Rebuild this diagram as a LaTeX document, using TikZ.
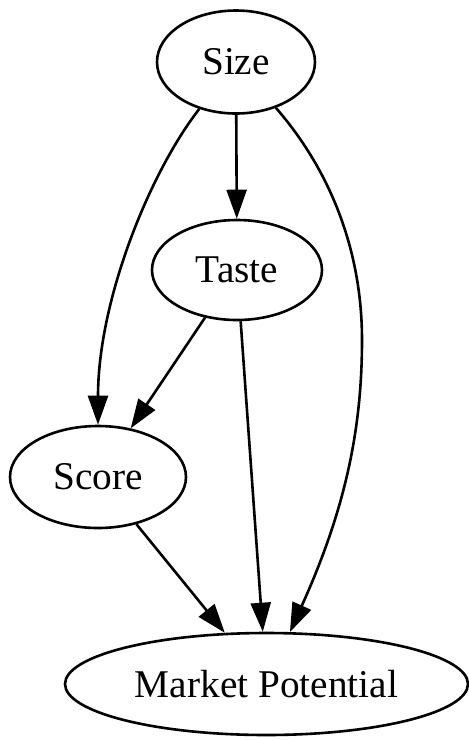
\documentclass[tikz,border=0pt]{standalone}
\usepackage{fontspec}
\setmainfont{Liberation Serif}
\usetikzlibrary{shapes.geometric,arrows.meta}
\begin{document}
\begin{tikzpicture}[x=1pt,y=-1pt,
  every node/.style={font=\fontsize{39.3}{47}\selectfont},
  nd/.style={ellipse,draw,line width=2.6pt,inner sep=0pt},
  arr/.style={line width=2.6pt,-{Triangle[length=29pt,width=20pt]}}]
\useasboundingbox (0,0) rectangle (469,740);
\node[nd,minimum width=158pt,minimum height=103pt] (size) at (236,62) {Size};
\node[nd,minimum width=170pt,minimum height=100pt] (taste) at (237,270) {Taste};
\node[nd,minimum width=176pt,minimum height=102pt] (score) at (98,477) {Score};
\node[nd,minimum width=403pt,minimum height=102pt] (market) at (266.5,684) {Market Potential};
\draw[arr] (size) -- (taste);
\draw[arr] (size) .. controls (150,172) and (98,300) .. (score);
\draw[arr] (size) .. controls (330,170) and (362,250) .. (362,340) .. controls (362,430) and (345,510) .. (market);
\draw[arr] (taste) -- (score);
\draw[arr] (taste) -- (market);
\draw[arr] (score) -- (market);
\end{tikzpicture}
\end{document}
